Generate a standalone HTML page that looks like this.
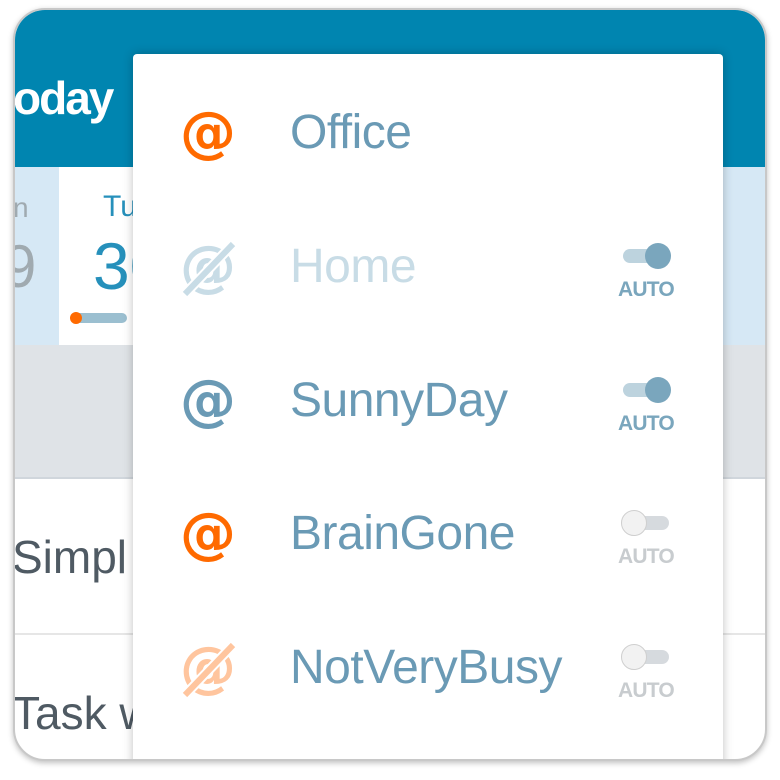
<!DOCTYPE html>
<html><head><meta charset="utf-8"><style>
*{margin:0;padding:0;box-sizing:border-box}
body{width:780px;height:780px;background:#fff;position:relative;overflow:hidden;font-family:"Liberation Sans",sans-serif}
.frame{position:absolute;left:13px;top:8px;width:754px;height:753px;border-radius:32px;overflow:hidden;border:2px solid #c8c8c8;box-shadow:0 2px 6px rgba(0,0,0,.25);background:#fff}
.abs{position:absolute}
.menu{position:absolute;left:118px;top:44px;width:590px;height:720px;background:#fff;border-radius:4px;box-shadow:0 0 10px rgba(0,0,0,.25)}
.row{position:absolute;left:0;width:590px;height:134px}
.ic{position:absolute;left:46px;top:50px;font-family:"DejaVu Sans",sans-serif;font-size:56px;font-weight:bold;line-height:58px;width:58px;text-align:center}
.lb{position:absolute;left:157px;top:54px;font-size:48px;line-height:50px;color:#6a9ab5;letter-spacing:-0.5px}
.tg{position:absolute;left:488px;top:53px;width:50px;height:40px}
.track{position:absolute;left:2px;top:8px;width:46px;height:14px;border-radius:7px}
.knob{position:absolute;top:2px;width:26px;height:26px;border-radius:50%}
.auto{position:absolute;left:-5px;top:37px;width:60px;text-align:center;font-size:21px;font-weight:bold;letter-spacing:-0.8px}
</style></head><body>
<div class="frame">
  <div class="abs" style="left:0;top:0;width:754px;height:157px;background:#0085b0"></div>
  <div class="abs" style="left:-2px;top:60px;color:#fff;font-size:46px;font-weight:bold;line-height:56px;letter-spacing:-2px">oday</div>
  <div class="abs" style="left:0;top:157px;width:754px;height:178px;background:#d6e8f5"></div>
  <div class="abs" style="left:44px;top:157px;width:76px;height:178px;background:#fff"></div>
  <div class="abs" style="left:-2px;top:182px;color:#a0aab0;font-size:28px">n</div>
  <div class="abs" style="left:-12px;top:222px;color:#a0aab0;font-size:60px">9</div>
  <div class="abs" style="left:88px;top:180px;color:#2690bb;font-size:30px">Tu</div>
  <div class="abs" style="left:78px;top:218px;color:#2690bb;font-size:66px">30</div>
  <div class="abs" style="left:58px;top:303px;width:54px;height:10px;border-radius:5px;background:#9bbfd0"></div>
  <div class="abs" style="left:55px;top:302px;width:12px;height:12px;border-radius:6px;background:#ff6a00"></div>
  <div class="abs" style="left:0;top:335px;width:754px;height:132px;background:#dfe3e7"></div>
  <div class="abs" style="left:0;top:467px;width:754px;height:2px;background:#d0d6dc"></div>
  <div class="abs" style="left:0;top:623px;width:754px;height:2px;background:#e6e6e6"></div>
  <div class="abs" style="left:-3px;top:520px;color:#4f5a63;font-size:46px">Simpl</div>
  <div class="abs" style="left:-3px;top:676px;color:#4f5a63;font-size:46px">Task w</div>
  <div class="menu">
    <div class="row" style="top:0">
      <div class="ic" style="color:#ff6a00">@</div>
      <div class="lb">Office</div>
    </div>
    <div class="row" style="top:134px">
      <div class="ic" style="color:#c8dce6">@</div>
      <svg class="abs" style="left:46px;top:50px" width="60" height="60"><line x1="6" y1="56" x2="54" y2="6" stroke="#fff" stroke-width="10"/><line x1="6" y1="56" x2="54" y2="6" stroke="#c8dce6" stroke-width="6"/></svg>
      <div class="lb" style="color:#c8dce6">Home</div>
      <div class="tg"><div class="track" style="background:#bdd3de"></div><div class="knob" style="left:24px;background:#7aa6bd"></div><div class="auto" style="color:#7aa6bd">AUTO</div></div>
    </div>
    <div class="row" style="top:268px">
      <div class="ic" style="color:#6a9ab5">@</div>
      <div class="lb">SunnyDay</div>
      <div class="tg"><div class="track" style="background:#bdd3de"></div><div class="knob" style="left:24px;background:#7aa6bd"></div><div class="auto" style="color:#7aa6bd">AUTO</div></div>
    </div>
    <div class="row" style="top:401px">
      <div class="ic" style="color:#ff6a00">@</div>
      <div class="lb">BrainGone</div>
      <div class="tg"><div class="track" style="background:#d6dade"></div><div class="knob" style="left:0;background:#f2f2f2;border:1px solid #cfcfcf"></div><div class="auto" style="color:#c8cccf">AUTO</div></div>
    </div>
    <div class="row" style="top:535px">
      <div class="ic" style="color:#ffc59e">@</div>
      <svg class="abs" style="left:46px;top:50px" width="60" height="60"><line x1="6" y1="56" x2="54" y2="6" stroke="#fff" stroke-width="10"/><line x1="6" y1="56" x2="54" y2="6" stroke="#ffc59e" stroke-width="6"/></svg>
      <div class="lb">NotVeryBusy</div>
      <div class="tg"><div class="track" style="background:#d6dade"></div><div class="knob" style="left:0;background:#f2f2f2;border:1px solid #cfcfcf"></div><div class="auto" style="color:#c8cccf">AUTO</div></div>
    </div>
  </div>
</div>
</body></html>
